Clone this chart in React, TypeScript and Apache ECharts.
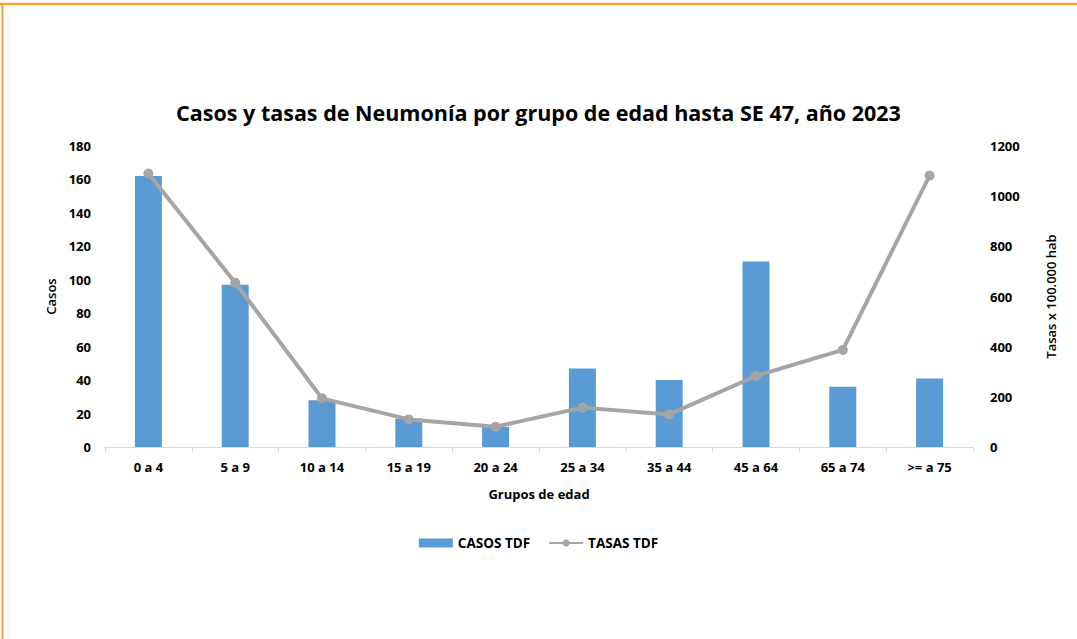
import React, { useEffect, useRef } from "react";
import * as echarts from "echarts";

const categories = ["0 a 4", "5 a 9", "10 a 14", "15 a 19", "20 a 24", "25 a 34", "35 a 44", "45 a 64", "65 a 74", ">= a 75"];
const casos = [162, 97, 28, 17, 12, 47, 40, 111, 36, 41];
const tasas = [1090, 655, 194, 110, 81, 157, 130, 283, 387, 1082];
const casosTicks = { min: 0, max: 180, interval: 20 };
const tasasTicks = { min: 0, max: 1200, interval: 200 };

const FONT = "'Open Sans', 'Liberation Sans', sans-serif";

export default function App() {
  const ref = useRef<HTMLDivElement>(null);
  useEffect(() => {
    document.body.style.margin = "0";
    if (!ref.current) return;
    const chart = echarts.init(ref.current, undefined, { renderer: "svg" });
    const lbl = { fontFamily: FONT, fontSize: 13, fontWeight: 700, color: "#000" };
    chart.setOption({
      animation: false,
      backgroundColor: "#ffffff",
      textStyle: { fontFamily: FONT },
      title: {
        text: "Casos y tasas de Neumonía por grupo de edad hasta SE 47, año 2023",
        left: "center",
        top: 96,
        textStyle: { fontFamily: FONT, fontSize: 21.5, fontWeight: 700, color: "#000" },
      },
      legend: {
        top: 531,
        left: "center",
        itemGap: 18,
        textStyle: { ...lbl, fontSize: 13.5 },
        data: [
          { name: "CASOS TDF", icon: "rect", itemStyle: { color: "#5B9BD5" } },
          { name: "TASAS TDF" },
        ],
        itemWidth: 34,
        itemHeight: 9,
      },
      grid: { left: 105, right: 104, top: 146, bottom: 192, containLabel: false },
      xAxis: {
        type: "category",
        data: categories,
        name: "Grupos de edad",
        nameLocation: "middle",
        nameGap: 40,
        nameTextStyle: { ...lbl },
        axisLine: { lineStyle: { color: "#D9D9D9", width: 1 } },
        axisTick: { show: true, length: 5, lineStyle: { color: "#D9D9D9" } },
        axisLabel: { ...lbl, margin: 13 },
      },
      yAxis: [
        {
          type: "value",
          ...casosTicks,
          name: "Casos",
          nameLocation: "middle",
          nameGap: 47,
          nameTextStyle: { ...lbl, fontWeight: 600 },
          splitLine: { show: false },
          axisLine: { show: false },
          axisTick: { show: false },
          axisLabel: { ...lbl, margin: 14 },
        },
        {
          type: "value",
          ...tasasTicks,
          name: "Tasas x 100.000 hab",
          nameLocation: "middle",
          nameGap: 71,
          nameTextStyle: { ...lbl, fontWeight: 600 },
          splitLine: { show: false },
          axisLine: { show: false },
          axisTick: { show: false },
          axisLabel: { ...lbl, margin: 17, formatter: (v: number) => String(v) },
        },
      ],
      series: [
        {
          name: "CASOS TDF",
          type: "bar",
          data: casos,
          yAxisIndex: 0,
          barWidth: 27,
          itemStyle: { color: "#5B9BD5" },
        },
        {
          name: "TASAS TDF",
          type: "line",
          data: tasas,
          yAxisIndex: 1,
          symbol: "circle",
          symbolSize: 10,
          lineStyle: { color: "#A5A5A5", width: 4 },
          itemStyle: { color: "#A5A5A5" },
        },
      ],
      graphic: [
        { type: "line", shape: { x1: 0, y1: 4, x2: 1077, y2: 4 }, style: { stroke: "#F4A23A", lineWidth: 2.5 } },
        { type: "line", shape: { x1: 2.5, y1: 4, x2: 2.5, y2: 639 }, style: { stroke: "#F4A23A", lineWidth: 2 } },
      ],
    });
    return () => chart.dispose();
  }, []);
  return <div ref={ref} style={{ width: 1077, height: 639 }} />;
}
